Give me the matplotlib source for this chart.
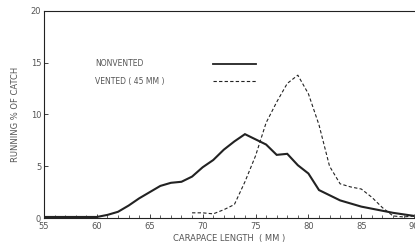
import matplotlib
matplotlib.use('Agg')
import matplotlib.pyplot as plt

# carapace length (mm) and running % of catch
length_nv = [55, 56, 57, 58, 59, 60, 61, 62, 63, 64, 65, 66, 67, 68, 69, 70, 71, 72,
             73, 74, 75, 76, 77, 78, 79, 80, 81, 82, 83, 84, 85, 86, 87, 88, 89, 90]
nonvented = [0.1, 0.1, 0.1, 0.1, 0.1, 0.1, 0.3, 0.6, 1.2, 1.9, 2.5, 3.1, 3.4, 3.5, 4.0, 4.9,
             5.6, 6.6, 7.4, 8.1, 7.6, 7.1, 6.1, 6.2, 5.1, 4.3, 2.7, 2.2, 1.7, 1.4, 1.1, 0.9,
             0.7, 0.5, 0.35, 0.2]

length_v = [69, 70, 71, 72, 73, 74, 75, 76, 77, 78, 79, 80, 81, 82, 83, 84, 85, 86, 87, 88, 89, 90]
vented = [0.5, 0.5, 0.4, 0.8, 1.3, 3.5, 6.0, 9.2, 11.2, 13.0, 13.8, 12.0, 9.0, 5.0, 3.3,
          3.0, 2.8, 2.0, 1.0, 0.2, 0.1, 0.2]

ink = '#222222'
txt = '#555555'

fig = plt.figure(figsize=(4.15, 2.5), dpi=100)
ax = fig.add_axes([0.106, 0.128, 0.892, 0.828])

ax.plot(length_nv, nonvented, color=ink, lw=1.5, solid_joinstyle='miter')
ax.plot(length_v, vented, color=ink, lw=0.8, ls=(0, (3, 2)))

ax.set_xlim(55, 90)
ax.set_ylim(0, 20)
ax.set_xticks(range(55, 91, 5))
ax.set_xticks(range(55, 91), minor=True)
ax.set_yticks(range(0, 21, 5))
ax.tick_params(axis='both', direction='in', labelsize=6, colors=ink, labelcolor=txt,
               length=3, width=0.6, pad=2)
ax.tick_params(axis='x', pad=3)
ax.tick_params(axis='x', which='minor', direction='in', length=2, width=0.5, color=ink)
ax.spines['right'].set_visible(False)
for s in ['left', 'top', 'bottom']:
    ax.spines[s].set_linewidth(0.8)
    ax.spines[s].set_color(ink)

ax.set_xlabel('CARAPACE LENGTH  ( MM )', fontsize=6, color=txt, labelpad=2)
ax.set_ylabel('RUNNING % OF CATCH', fontsize=6, color=txt, labelpad=8)

# legend drawn by hand
ax.text(59.8, 14.9, 'NONVENTED', fontsize=5.5, color=txt, va='center')
ax.text(59.8, 13.2, 'VENTED ( 45 MM )', fontsize=5.5, color=txt, va='center')
ax.plot([71.0, 75.0], [14.9, 14.9], color=ink, lw=1.3)
ax.plot([71.0, 75.0], [13.2, 13.2], color=ink, lw=0.8, ls=(0, (3, 2)))

fig.savefig('out.png', dpi=100)
